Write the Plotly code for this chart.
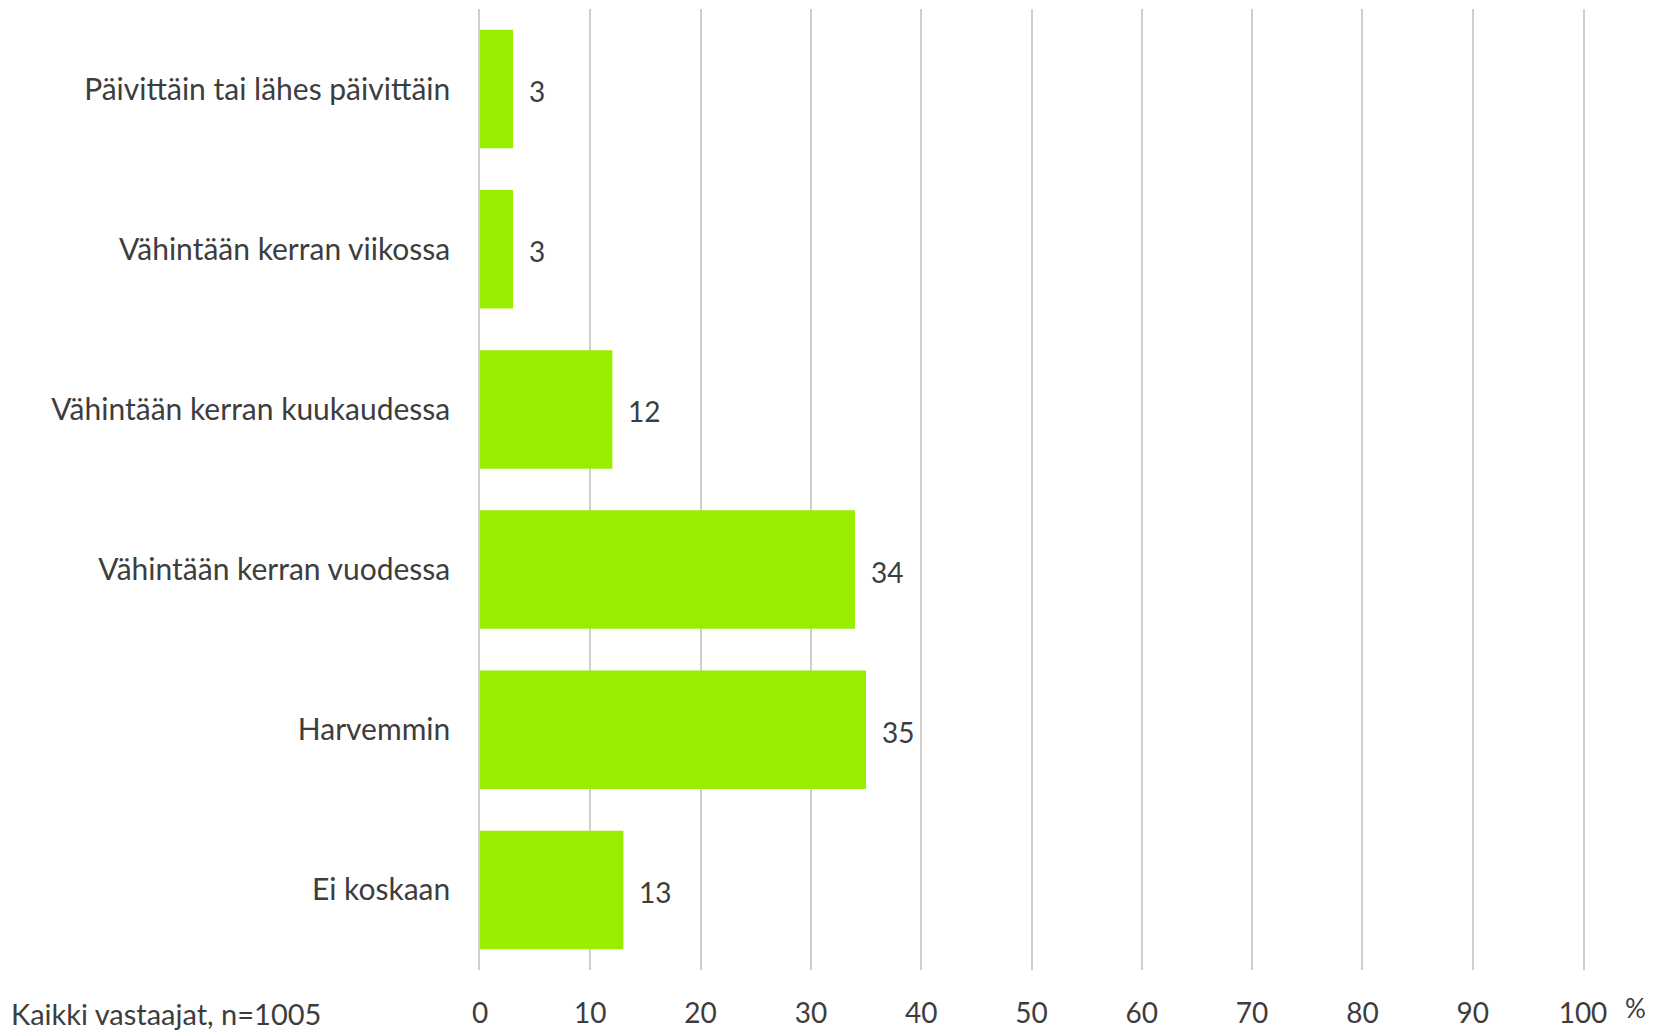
import plotly.graph_objects as go

categories = [
    "Päivittäin tai lähes päivittäin",
    "Vähintään kerran viikossa",
    "Vähintään kerran kuukaudessa",
    "Vähintään kerran vuodessa",
    "Harvemmin",
    "Ei koskaan",
]
values = [3, 3, 12, 34, 35, 13]
x_ticks = [0, 10, 20, 30, 40, 50, 60, 70, 80, 90, 100]

FONT = "Lato"
TXT = "#3d3d3d"
GRID = "#cfcfcf"

fig = go.Figure()
fig.add_trace(go.Bar(
    y=categories, x=values, orientation="h",
    marker=dict(color="#99EE00", line=dict(width=0)),
    width=0.74, hoverinfo="skip",
))

for c, v in zip(categories, values):
    fig.add_annotation(x=v, y=c, text=str(v), showarrow=False,
                       xanchor="left", xshift=14, yshift=-2,
                       font=dict(family=FONT, size=28, color=TXT))

fig.add_annotation(xref="paper", yref="paper", x=1.0, y=0, xshift=40, yshift=-38,
                   text="%", showarrow=False, xanchor="left", yanchor="middle",
                   font=dict(family=FONT, size=26, color=TXT))
fig.add_annotation(xref="paper", yref="paper", x=0, y=0, xshift=-471, yshift=-43,
                   text="Kaikki vastaajat, n=1005", showarrow=False, xanchor="left", yanchor="middle",
                   font=dict(family=FONT, size=29, color=TXT))

fig.update_layout(
    width=1659, height=1024,
    margin=dict(l=472, r=84, t=1, b=62, autoexpand=False),
    paper_bgcolor="white", plot_bgcolor="white",
    showlegend=False,
    font=dict(family=FONT, color=TXT),
    xaxis=dict(range=[0, 100], tickvals=x_ticks, showgrid=True, gridcolor=GRID,
               gridwidth=1.5, zeroline=False, showline=False, automargin=False,
               tickfont=dict(family=FONT, size=28, color=TXT),
               ticks="outside", ticklen=18, tickcolor="rgba(0,0,0,0)",
               fixedrange=True),
    yaxis=dict(categoryorder="array", categoryarray=categories[::-1],
               showgrid=False, zeroline=False, automargin=False,
               showline=True, mirror=True, linecolor=GRID, linewidth=1.5,
               tickfont=dict(family=FONT, size=30, color=TXT),
               ticks="outside", ticklen=22, tickcolor="rgba(0,0,0,0)",
               fixedrange=True),
)

fig.write_html("out.html")
